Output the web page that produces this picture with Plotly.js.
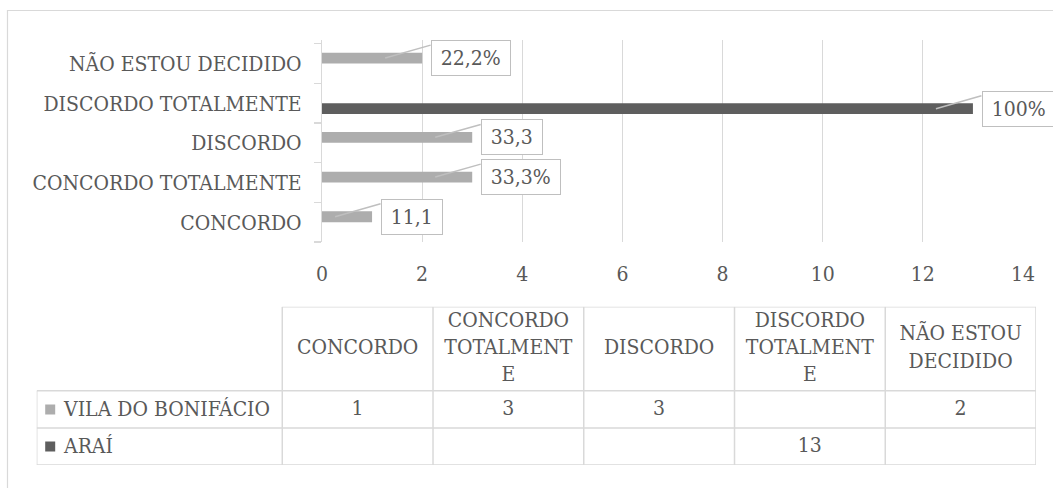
<!DOCTYPE html>
<html>
<head>
<meta charset="utf-8">
<script src="https://cdn.plot.ly/plotly-3.0.1.min.js"></script>
<style>
  html, body { margin: 0; padding: 0; background: #ffffff; }
  #chart { width: 1053px; height: 488px; }
</style>
</head>
<body>
<div id="chart"></div>
<script>
// Survey answers per response option, for two localities
const categories = ['CONCORDO', 'CONCORDO TOTALMENTE', 'DISCORDO', 'DISCORDO TOTALMENTE', 'NÃO ESTOU DECIDIDO'];
const seriesNames = ['VILA DO BONIFÁCIO', 'ARAÍ'];
const vila = [1, 3, 3, null, 2];
const arai = [null, null, null, 13, null];
const vilaLabels = ['11,1', '33,3%', '33,3', null, '22,2%'];
const araiLabels = [null, null, null, '100%', null];
const xTicks = [0, 2, 4, 6, 8, 10, 12, 14];

const W = 1053, H = 488;
const FONT = 'DejaVu Serif Condensed, DejaVu Serif, serif';
const TXT = '#595959';
const GRID = '#d9d9d9';
const VILA_COLOR = '#adadad';
const ARAI_COLOR = '#5e5e5e';

// pixel frame of the bar panel and of the data table
const plotBox = { x0: 322, x1: 1023, y0: 40, y1: 242 };
const tableBox = { x0: 36.7, x1: 1036, y0: 306.7, y1: 465 };
const labelColUnits = 1.629;   // width of the series-name column, in data-column units
const headerUnits = 2.27;      // header row height, in data-row units

const fx = p => p / W;
const fy = p => 1 - p / H;

// wrap header words to at most 9 characters per line
function wrapHeader(s, max) {
  const lines = [];
  let cur = '';
  s.split(' ').forEach(w => {
    while (w.length > max) {
      if (cur) { lines.push(cur); cur = ''; }
      lines.push(w.slice(0, max));
      w = w.slice(max);
    }
    if (!cur) cur = w;
    else if ((cur + ' ' + w).length <= max) cur += ' ' + w;
    else { lines.push(cur); cur = w; }
  });
  if (cur) lines.push(cur);
  return lines.join('<br>');
}

const colCenters = categories.map((_, i) => i + 0.5);
const fmt = v => (v === null || v === undefined) ? '' : String(v);

const traces = [
  {
    type: 'bar', orientation: 'h', name: seriesNames[1],
    y: categories, x: arai,
    marker: { color: ARAI_COLOR },
    xaxis: 'x', yaxis: 'y', hoverinfo: 'skip'
  },
  {
    type: 'bar', orientation: 'h', name: seriesNames[0],
    y: categories, x: vila,
    marker: { color: VILA_COLOR },
    xaxis: 'x', yaxis: 'y', hoverinfo: 'skip'
  },
  // data table: header row
  {
    type: 'scatter', mode: 'text', xaxis: 'x2', yaxis: 'y2',
    x: colCenters, y: categories.map(() => -headerUnits / 2),
    text: categories.map(c => wrapHeader(c, 9)),
    textposition: 'middle center',
    textfont: { family: FONT, size: 21, color: TXT },
    hoverinfo: 'skip'
  },
  // data table: value rows
  {
    type: 'scatter', mode: 'text', xaxis: 'x2', yaxis: 'y2',
    x: colCenters.concat(colCenters),
    y: categories.map(() => 0.5).concat(categories.map(() => 1.5)),
    text: vila.map(fmt).concat(arai.map(fmt)),
    textposition: 'middle center',
    textfont: { family: FONT, size: 21, color: TXT },
    hoverinfo: 'skip'
  }
];

const shapes = [];
const annotations = [];

// outer chart frame
shapes.push({
  type: 'rect', xref: 'paper', yref: 'paper',
  x0: fx(7.5), x1: 1.02, y0: -0.02, y1: fy(10.5),
  line: { color: GRID, width: 1.2 }, fillcolor: 'rgba(0,0,0,0)', layer: 'below'
});

// table grid
const tl = { color: GRID, width: 1.5 };
shapes.push({ type: 'line', xref: 'x2', yref: 'y2', x0: 0, x1: categories.length, y0: -headerUnits, y1: -headerUnits, line: tl });
[0, 1, 2].forEach(r => shapes.push({ type: 'line', xref: 'x2', yref: 'y2', x0: -labelColUnits, x1: categories.length, y0: r, y1: r, line: tl }));
shapes.push({ type: 'line', xref: 'x2', yref: 'y2', x0: -labelColUnits, x1: -labelColUnits, y0: 0, y1: 2, line: tl });
for (let c = 0; c <= categories.length; c++) {
  shapes.push({ type: 'line', xref: 'x2', yref: 'y2', x0: c, x1: c, y0: -headerUnits, y1: 2, line: tl });
}

// legend keys and series names in the table
[VILA_COLOR, ARAI_COLOR].forEach((col, r) => {
  shapes.push({
    type: 'rect', xref: 'x2', yref: 'y2',
    xsizemode: 'pixel', xanchor: -labelColUnits, x0: 8.5, x1: 18.5,
    ysizemode: 'pixel', yanchor: r + 0.5, y0: -5, y1: 5,
    fillcolor: col, line: { width: 0 }
  });
  annotations.push({
    xref: 'x2', yref: 'y2', x: -labelColUnits, y: r + 0.5,
    xanchor: 'left', yanchor: 'middle', xshift: 24,
    text: seriesNames[r], showarrow: false,
    font: { family: FONT, size: 21, color: TXT }
  });
});

// callout data labels: leader lines first, boxes on top
const labelSets = [
  { values: vila, labels: vilaLabels, shift: 5.5 },
  { values: arai, labels: araiLabels, shift: -5.5 }
];
labelSets.forEach(set => {
  set.values.forEach((v, i) => {
    if (v === null || !set.labels[i]) return;
    annotations.push({
      xref: 'x', yref: 'y', x: v, y: categories[i],
      xshift: -37, yshift: set.shift,
      text: '', showarrow: true, arrowhead: 0, arrowwidth: 1.5,
      arrowcolor: '#bfbfbf', ax: 46, ay: -13, standoff: 0, borderpad: 0
    });
  });
});
labelSets.forEach(set => {
  set.values.forEach((v, i) => {
    if (v === null || !set.labels[i]) return;
    annotations.push({
      xref: 'x', yref: 'y', x: v, y: categories[i],
      xanchor: 'left', yanchor: 'middle', xshift: 9, yshift: set.shift,
      text: '\u2009' + set.labels[i] + '\u2009', showarrow: false,
      bgcolor: '#ffffff', bordercolor: '#bfbfbf', borderwidth: 1, borderpad: 5,
      font: { family: FONT, size: 21, color: TXT }
    });
  });
});

const layout = {
  width: W, height: H,
  margin: { l: 0, r: 0, t: 0, b: 0, pad: 0 },
  paper_bgcolor: '#ffffff', plot_bgcolor: 'rgba(0,0,0,0)',
  showlegend: false,
  barmode: 'group', bargap: 0.455, bargroupgap: 0,
  font: { family: FONT, size: 21, color: TXT },
  xaxis: {
    domain: [fx(plotBox.x0), fx(plotBox.x1)], anchor: 'y',
    range: [0, 14], tickvals: xTicks, ticktext: xTicks.map(String),
    showgrid: true, gridcolor: GRID, gridwidth: 1.2,
    zeroline: false, showline: false, ticks: '',
    ticklabelstandoff: 17,
    tickfont: { family: FONT, size: 21, color: TXT },
    fixedrange: true
  },
  yaxis: {
    domain: [fy(plotBox.y1), fy(plotBox.y0)], anchor: 'x',
    type: 'category', categoryorder: 'array', categoryarray: categories,
    showgrid: false, zeroline: false,
    showline: true, linecolor: GRID, linewidth: 1.2,
    ticks: 'outside', tickson: 'boundaries', ticklen: 7, tickcolor: GRID, tickwidth: 1.2,
    ticklabelstandoff: 15,
    tickfont: { family: FONT, size: 21, color: TXT },
    fixedrange: true
  },
  xaxis2: {
    domain: [fx(tableBox.x0), fx(tableBox.x1)], anchor: 'y2',
    range: [-labelColUnits, categories.length], visible: false, fixedrange: true
  },
  yaxis2: {
    domain: [fy(tableBox.y1), fy(tableBox.y0)], anchor: 'x2',
    range: [2, -headerUnits], visible: false, fixedrange: true
  },
  shapes: shapes,
  annotations: annotations
};

Plotly.newPlot('chart', traces, layout, { displayModeBar: false, staticPlot: true });
</script>
</body>
</html>
